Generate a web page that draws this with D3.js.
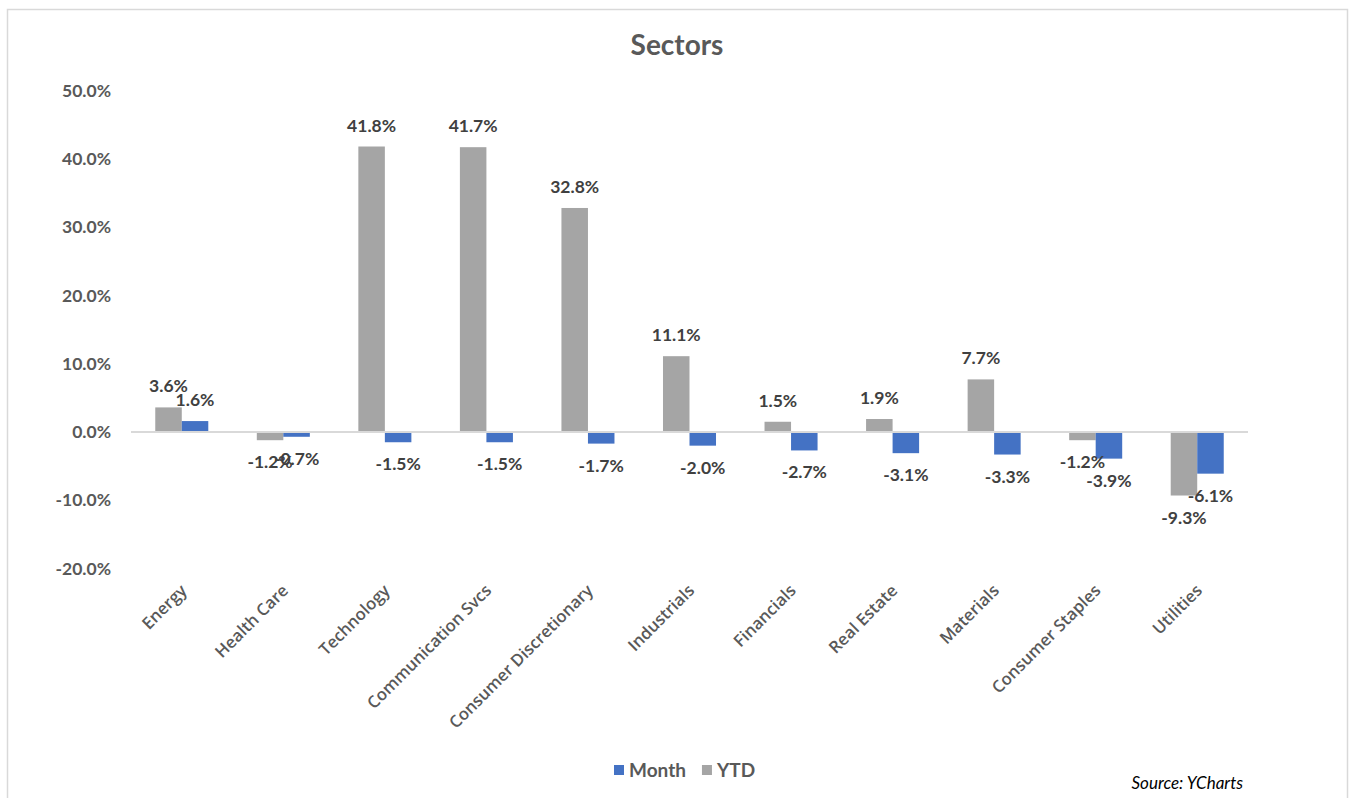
<!DOCTYPE html>
<html><head><meta charset="utf-8">
<script src="https://cdn.jsdelivr.net/npm/d3@7"></script>
<style>body{margin:0;background:#fff;}svg{display:block;}</style>
</head><body>
<svg id="c" width="1351" height="798"></svg>
<script>
const categories = ["Energy","Health Care","Technology","Communication Svcs","Consumer Discretionary","Industrials","Financials","Real Estate","Materials","Consumer Staples","Utilities"];
const monthValues = [1.6,-0.7,-1.5,-1.5,-1.7,-2.0,-2.7,-3.1,-3.3,-3.9,-6.1];
const ytdValues = [3.6,-1.2,41.8,41.7,32.8,11.1,1.5,1.9,7.7,-1.2,-9.3];
const yTicks = [-20,-10,0,10,20,30,40,50];
const seriesNames = ["YTD","Month"];
const legendOrder = ["Month","YTD"];
const colors = {Month:"#4472C4", YTD:"#A5A5A5"};

(function(){
const svg = d3.select("#c");
svg.append("rect").attr("x",7.5).attr("y",9.5).attr("width",1340).attr("height",800)
  .attr("fill","#fff").attr("stroke","#D9D9D9").attr("stroke-width",1.5);

const pL = 131, pR = 1248, pT = 90.5, pB = 568.6;
const x = d3.scaleBand().domain(categories).range([pL,pR]).paddingInner(0).paddingOuter(0);
const xs = d3.scaleBand().domain(seriesNames).range([0,x.bandwidth()]).paddingInner(0).paddingOuter(0.915);
const y = d3.scaleLinear().domain([-20,50]).range([pB,pT]);

svg.append("text").attr("x",677).attr("y",55).attr("text-anchor","middle")
  .attr("font-family","Lato, 'Open Sans', sans-serif").attr("font-weight","bold").attr("font-size",28)
  .attr("fill","#595959").text("Sectors");

const yAxis = d3.axisLeft(y).tickValues(yTicks).tickSize(0).tickPadding(0).tickFormat(d=>d.toFixed(1)+"%");
const ga = svg.append("g").attr("transform",`translate(${pL-20},0)`).call(yAxis);
ga.select(".domain").remove();
ga.selectAll("text").attr("font-family","Lato, sans-serif").attr("font-weight","bold").attr("font-size",17.5).attr("fill","#595959");

const data = categories.map((c,i)=>({cat:c, values:[{s:"YTD",v:ytdValues[i]},{s:"Month",v:monthValues[i]}]}));

const g = svg.append("g");
const groups = g.selectAll("g.cat").data(data).join("g").attr("class","cat").attr("transform",d=>`translate(${x(d.cat)},0)`);
groups.selectAll("rect").data(d=>d.values).join("rect")
  .attr("x",d=>xs(d.s)).attr("width",xs.bandwidth())
  .attr("y",d=>y(Math.max(0,d.v))).attr("height",d=>Math.abs(y(d.v)-y(0)))
  .attr("fill",d=>colors[d.s]);

svg.append("line").attr("x1",pL).attr("x2",pR).attr("y1",y(0)).attr("y2",y(0))
  .attr("stroke","#D9D9D9").attr("stroke-width",2);

groups.selectAll("text").data(d=>d.values).join("text")
  .attr("x",d=>xs(d.s)+xs.bandwidth()/2)
  .attr("y",d=>d.v>=0 ? y(d.v)-15 : y(d.v)+28)
  .attr("text-anchor","middle")
  .attr("font-family","Lato, sans-serif").attr("font-weight","bold").attr("font-size",17.5)
  .attr("fill","#404040").text(d=>d.v.toFixed(1)+"%");

const xAxis = d3.axisBottom(x).tickSize(0).tickPadding(0);
const gx = svg.append("g").attr("transform",`translate(0,${pB})`).call(xAxis);
gx.select(".domain").remove();
gx.selectAll("text")
  .attr("font-family","'Open Sans', sans-serif").attr("font-weight",600).attr("font-size",16.7).attr("fill","#595959")
  .attr("text-anchor","end").attr("dy",0).attr("y",0)
  .attr("transform","translate(6,23) rotate(-45)");

const lg = svg.append("g").attr("transform","translate(614,765)");
let lx = 0;
legendOrder.forEach(n=>{
  lg.append("rect").attr("x",lx).attr("y",0).attr("width",10).attr("height",10).attr("fill",colors[n]);
  const t = lg.append("text").attr("x",lx+15).attr("y",12).attr("font-family","Lato, sans-serif")
    .attr("font-weight","bold").attr("font-size",19).attr("fill","#595959").text(n);
  lx += 15 + t.node().getComputedTextLength() + 16;
});

svg.append("text").attr("x",1243).attr("y",789).attr("text-anchor","end")
  .attr("font-family","Lato, sans-serif").attr("font-style","italic").attr("font-size",17)
  .attr("fill","#000").text("Source: YCharts");
})();
</script>
</body></html>
